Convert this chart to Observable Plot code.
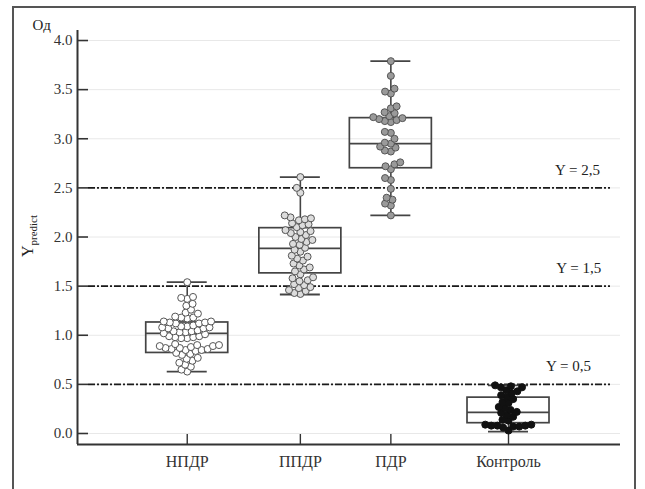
<!DOCTYPE html>
<html>
<head>
<meta charset="utf-8">
<script src="https://cdn.jsdelivr.net/npm/d3@7"></script>
<script src="https://cdn.jsdelivr.net/npm/@observablehq/plot@0.6"></script>
<style>
  html, body { margin: 0; padding: 0; background: #fff; overflow: hidden; }
  #wrap { position: relative; width: 645px; height: 489px; }
  #border { position: absolute; left: 12px; top: 6px; width: 624px; height: 520px; border: 2px solid #555; box-sizing: border-box; pointer-events: none; }
  #chart { position: absolute; left: 0; top: 0; }
  #chart svg, #chart svg text { font-family: "Liberation Serif", "DejaVu Serif", serif !important; }
</style>
</head>
<body>
<div id="wrap"><div id="chart"></div><div id="border"></div></div>
<script>
// ---- data ----
const groups = ["НПДР", "ППДР", "ПДР", "Контроль"];
const groupX = [0.97, 1.97, 2.77, 3.81];
const whiskLo = [0.63, 1.415, 2.22, 0.02];
const q1 = [0.82, 1.63, 2.70, 0.105];
const median = [1.02, 1.885, 2.95, 0.215];
const q3 = [1.13, 2.09, 3.21, 0.365];
const whiskHi = [1.54, 2.61, 3.79, 0.49];

const npdr = [1.54,
  1.39, 1.38, 1.37, 1.32, 1.30, 1.26, 1.23, 1.22,
  1.19, 1.18, 1.18, 1.17, 1.14, 1.14, 1.13, 1.13, 1.12, 1.12,
  1.10, 1.09, 1.09, 1.08, 1.08, 1.07, 1.07,
  1.05, 1.04, 1.04, 1.03, 1.03, 1.02, 1.01,
  0.99, 0.99, 0.98, 0.98, 0.97, 0.97,
  0.91, 0.90, 0.90, 0.89, 0.89, 0.88,
  0.87, 0.87, 0.86, 0.86, 0.85, 0.85, 0.84,
  0.82, 0.81, 0.80, 0.77, 0.76, 0.74, 0.72, 0.70, 0.68, 0.65, 0.63];
const ppdr = [2.61, 2.50, 2.45,
  2.22, 2.20, 2.19, 2.18, 2.17, 2.14, 2.13, 2.12, 2.10,
  2.07, 2.06, 2.05, 2.04, 2.02, 2.00, 1.98, 1.97, 1.95, 1.93, 1.92,
  1.89, 1.87, 1.85, 1.81, 1.80, 1.78, 1.76,
  1.73, 1.71, 1.69, 1.67, 1.65, 1.62,
  1.59, 1.58, 1.56, 1.55, 1.52, 1.51, 1.49, 1.48,
  1.46, 1.45, 1.43, 1.42];
const pdr = [3.79, 3.64, 3.51, 3.48, 3.46,
  3.33, 3.31, 3.27, 3.26,
  3.23, 3.22, 3.21, 3.20, 3.19, 3.18, 3.17,
  3.07, 3.06, 3.00, 2.96, 2.95, 2.92, 2.91, 2.88, 2.87,
  2.76, 2.74, 2.72, 2.69, 2.60, 2.58, 2.49,
  2.40, 2.38, 2.34, 2.32, 2.22];
const control = [0.49, 0.48, 0.47, 0.47,
  0.44, 0.43, 0.41, 0.39, 0.37, 0.35,
  0.32, 0.31, 0.27, 0.26, 0.24, 0.22, 0.21, 0.19,
  0.17, 0.14, 0.13,
  0.09, 0.09, 0.08, 0.08, 0.08, 0.07, 0.07, 0.06, 0.03];
const series = [npdr, ppdr, pdr, control];

const refLines = [2.5, 1.5, 0.5];
const refLabels = ["Y = 2,5", "Y = 1,5", "Y = 0,5"];
const refLabelX = [4.42, 4.43, 4.34];
const yTicks = [0, 0.5, 1.0, 1.5, 2.0, 2.5, 3.0, 3.5, 4.0];

// ---- styling / layout ----
const W = 645, H = 489;
const mL = 77, mR = 25, mT = 30, mB = 45;
const xDom = [0, 4.8], yDom = [-0.112, 4.102];
const fills = ["#ffffff", "#dcdcdc", "#9a9a9a", "#111111"];
const strokes = ["#555", "#555", "#555", "#111"];
const ink = "#333";
const font = "Liberation Serif";
const R = 3.5;

const xppu = (W - mL - mR) / (xDom[1] - xDom[0]);
const yppu = (H - mT - mB) / (yDom[1] - yDom[0]);
const boxHalf = 41 / xppu, capHalf = 20 / xppu;

// beeswarm layout (pixel collision -> back to x units)
function swarm(vals, cx) {
  const d = 2 * R - 0.9;
  const placed = [];
  const sorted = vals.slice().sort((a, b) => a - b);
  const out = [];
  for (const v of sorted) {
    const py = (yDom[1] - v) * yppu;
    const near = placed.filter(p => Math.abs(p.py - py) < d);
    const cands = [0];
    for (const p of near) {
      const w = Math.sqrt(d * d - (p.py - py) ** 2);
      cands.push(p.px - w, p.px + w);
    }
    cands.sort((a, b) => Math.abs(a) - Math.abs(b));
    let px = 0;
    for (const c of cands) {
      if (near.every(p => (p.px - c) ** 2 + (p.py - py) ** 2 >= d * d - 0.01)) { px = c; break; }
    }
    placed.push({px, py});
    out.push({v, x: cx + px / xppu});
  }
  return out;
}

const boxes = groups.map((g, i) => ({g, x: groupX[i], lo: whiskLo[i], q1: q1[i], med: median[i], q3: q3[i], hi: whiskHi[i]}));
const refs = refLines.map((y, i) => ({y, label: refLabels[i], lx: refLabelX[i]}));

const marks = [
  Plot.ruleY(yTicks, {stroke: "#e8e8e8", strokeWidth: 1, insetLeft: 11}),
  Plot.ruleY(refs, {y: "y", stroke: "#1a1a1a", strokeWidth: 1.8, strokeDasharray: "7,2,2,2", insetLeft: 11, insetRight: 10}),
  Plot.text(refs, {x: "lx", y: "y", text: "label", dy: -13, lineAnchor: "bottom", fontSize: 15, fill: "#222", fontFamily: font}),
  Plot.ruleX([xDom[0]], {stroke: ink, strokeWidth: 2}),
  Plot.ruleY([yDom[0]], {stroke: ink, strokeWidth: 2}),
  Plot.ruleY(yTicks, {stroke: ink, strokeWidth: 1.6, insetRight: (W - mL - mR) - 11}),
  Plot.ruleX(groupX, {stroke: ink, strokeWidth: 1.4, insetTop: (H - mT - mB) - 10}),
  Plot.axisY({ticks: yTicks, tickSize: 0, tickPadding: 5, tickFormat: d3.format(".1f"), fontSize: 15, label: null, fill: "#333", fontFamily: font}),
  Plot.axisX({ticks: groupX, tickSize: 0, tickPadding: 11, tickFormat: d => groups[groupX.indexOf(d)], fontSize: 16, label: null, fill: "#333", fontFamily: font}),
  Plot.ruleX(boxes, {x: "x", y1: "lo", y2: "q1", stroke: "#444", strokeWidth: 1.6}),
  Plot.ruleX(boxes, {x: "x", y1: "q3", y2: "hi", stroke: "#444", strokeWidth: 1.6}),
  Plot.ruleY(boxes, {y: "lo", x1: d => d.x - capHalf, x2: d => d.x + capHalf, stroke: "#444", strokeWidth: 1.8}),
  Plot.ruleY(boxes, {y: "hi", x1: d => d.x - capHalf, x2: d => d.x + capHalf, stroke: "#444", strokeWidth: 1.8}),
  Plot.rect(boxes, {x1: d => d.x - boxHalf, x2: d => d.x + boxHalf, y1: "q1", y2: "q3", fill: "none", stroke: "#444", strokeWidth: 1.7}),
  Plot.ruleY(boxes, {y: "med", x1: d => d.x - boxHalf, x2: d => d.x + boxHalf, stroke: "#444", strokeWidth: 1.7}),
  ...series.map((vals, i) => Plot.dot(swarm(vals, groupX[i]), {x: "x", y: "v", r: R, fill: fills[i], stroke: strokes[i], strokeWidth: 1})),
  Plot.text(["Од"], {frameAnchor: "top-left", dx: -45, dy: -1, textAnchor: "start", lineAnchor: "bottom", fontSize: 15, fill: "#222", fontFamily: font})
];

const chart = Plot.plot({
  width: W, height: H,
  marginLeft: mL, marginRight: mR, marginTop: mT, marginBottom: mB,
  x: {domain: xDom, axis: null},
  y: {domain: yDom, axis: null},
  style: {fontFamily: font, background: "transparent", color: "#222"},
  marks
});

const svg = d3.select(chart);
const t = svg.append("text")
  .attr("transform", `translate(33,${mT + (H - mT - mB) / 2 - 1}) rotate(-90)`)
  .attr("text-anchor", "middle")
  .attr("font-family", font)
  .attr("fill", "#222");
t.append("tspan").attr("font-size", 16).text("Y");
t.append("tspan").attr("font-size", 11).attr("dy", 4).text("predict");

document.getElementById("chart").appendChild(chart);
</script>
</body>
</html>
